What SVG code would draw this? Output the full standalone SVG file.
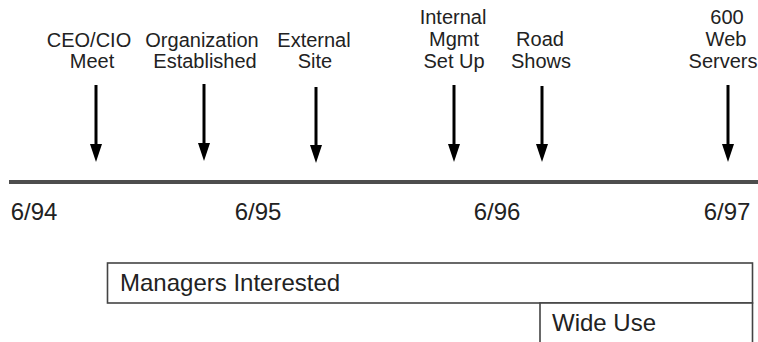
<svg xmlns="http://www.w3.org/2000/svg" width="758" height="342" viewBox="0 0 758 342">
  <defs>
    <marker id="head" markerUnits="userSpaceOnUse" markerWidth="18" markerHeight="12" refX="1" refY="6" orient="auto" viewBox="0 0 18 12">
      <polygon points="0,0 18,6 0,12" fill="#000"/>
    </marker>
    <style>
      text { font-family: "Liberation Sans", Arial, sans-serif; fill: #222; }
      .lbl { font-size: 20px; text-anchor: middle; }
      .date { font-size: 24px; text-anchor: middle; }
      .bar { font-size: 24px; }
      .arrow { stroke: #000; stroke-width: 3; fill: none; }
      .box { fill: #fff; stroke: #444; stroke-width: 1.6; }
    </style>
  </defs>
  <rect width="758" height="342" fill="#fff"/>

  <g id="timeline">
    <line x1="9" y1="182" x2="758" y2="182" stroke="#4d4d4d" stroke-width="4"/>
  </g>

  <g id="connectors">
    <line class="arrow" x1="96" y1="85" x2="96" y2="145" marker-end="url(#head)"/>
    <line class="arrow" x1="204" y1="84" x2="204" y2="144" marker-end="url(#head)"/>
    <line class="arrow" x1="316" y1="87" x2="316" y2="146" marker-end="url(#head)"/>
    <line class="arrow" x1="454" y1="85" x2="454" y2="145" marker-end="url(#head)"/>
    <line class="arrow" x1="542" y1="86" x2="542" y2="145" marker-end="url(#head)"/>
    <line class="arrow" x1="728" y1="85" x2="728" y2="145" marker-end="url(#head)"/>
  </g>

  <g id="ceo-cio-meet">
    <text class="lbl"><tspan x="89" y="47">CEO/CIO</tspan><tspan x="92" y="68">Meet</tspan></text>
  </g>
  <g id="organization-established">
    <text class="lbl"><tspan x="202" y="47">Organization</tspan><tspan x="205" y="68">Established</tspan></text>
  </g>
  <g id="external-site">
    <text class="lbl"><tspan x="314" y="47">External</tspan><tspan x="315" y="68">Site</tspan></text>
  </g>
  <g id="internal-mgmt">
    <text class="lbl"><tspan x="453" y="24">Internal</tspan><tspan x="454" y="46">Mgmt</tspan><tspan x="454" y="68">Set Up</tspan></text>
  </g>
  <g id="road-shows">
    <text class="lbl"><tspan x="540" y="46">Road</tspan><tspan x="541" y="68">Shows</tspan></text>
  </g>
  <g id="web-servers">
    <text class="lbl"><tspan x="727" y="24">600</tspan><tspan x="726" y="46">Web</tspan><tspan x="723" y="68">Servers</tspan></text>
  </g>

  <g id="dates">
    <text class="date" x="34" y="220">6/94</text>
    <text class="date" x="258" y="220">6/95</text>
    <text class="date" x="497" y="220">6/96</text>
    <text class="date" x="727" y="220">6/97</text>
  </g>

  <g id="managers-interested">
    <rect class="box" x="107.5" y="263" width="645" height="40"/>
    <text class="bar" x="120" y="291">Managers Interested</text>
  </g>
  <g id="wide-use">
    <rect class="box" x="540" y="303" width="212.5" height="45"/>
    <text class="bar" x="552" y="331">Wide Use</text>
  </g>
</svg>
